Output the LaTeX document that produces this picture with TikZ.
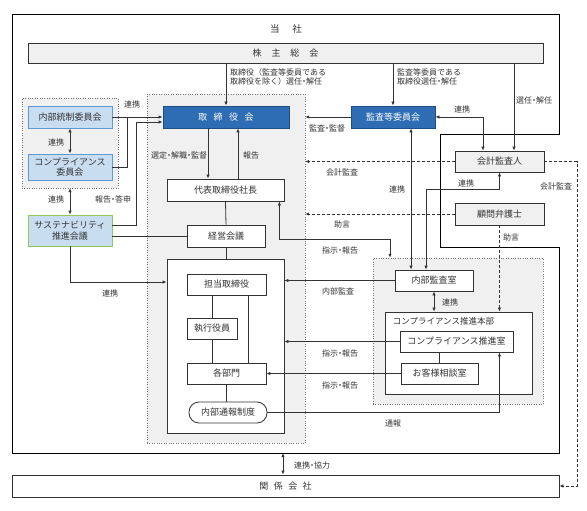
\documentclass[tikz,border=0pt]{standalone}
\usepackage{fontspec}
\setmainfont{Noto Sans CJK JP}
\usetikzlibrary{arrows.meta}

\definecolor{boardblue}{HTML}{2E6DB4}
\definecolor{boardedge}{HTML}{1F4E85}
\definecolor{paleblue}{HTML}{C9DDF1}
\definecolor{paleedge}{HTML}{5B9BD5}
\definecolor{greenedge}{HTML}{92C85A}
\definecolor{zonegray}{HTML}{F0F0F0}
\definecolor{ink}{HTML}{333333}

\newcommand*{\nd}{\hspace{-0.25em}・\hspace{-0.25em}}

\begin{document}
\begin{tikzpicture}
[
	x=1pt, y=-1pt,
	>={Latex[length=4pt,width=3.4pt]},
	box/.style={draw=ink,line width=0.8pt,fill=white,inner sep=0pt,align=center,text=ink,font=\fontsize{9}{10.5}\selectfont},
	graybox/.style={box,fill=zonegray},
	bluebox/.style={box,fill=boardblue,draw=boardedge,text=white},
	palebox/.style={box,fill=paleblue,draw=paleedge},
	greenbox/.style={box,fill=paleblue,draw=greenedge},
	zonebox/.style={draw=black!55,dotted,fill=zonegray,inner sep=0pt},
	lbl/.style={inner sep=0pt,anchor=west,align=left,text=ink,font=\fontsize{8}{9.5}\selectfont},
	link/.style={draw=ink,line width=0.8pt},
	ext/.style={link,dashed,dash pattern=on 3pt off 2pt}
]

	\useasboundingbox (0,0) rectangle (587,511);

	% zones
	\node[zonebox,minimum width=158pt,minimum height=349pt] (execzone) at (226,268.5) {};
	\node[zonebox,minimum width=96pt,minimum height=90pt] (leftzone) at (70,143) {};
	\node[zonebox,minimum width=170pt,minimum height=146pt] (compzone) at (458,331) {};

	% company frame
	\draw[line width=1pt] (12,15) -- (559,15) -- (559,134) -- (440,134) -- (440,247)
		-- (559,247) -- (559,453) -- (12,453) -- cycle;
	\node[text=ink,font=\fontsize{9.5}{10}\selectfont] (tosha) at (286,29) {当\hspace{13pt}社};
	\coordinate (fb) at (283,453);

	% boxes
	\node[graybox,minimum width=515pt,minimum height=20pt] (kabu) at (285.5,53) {株\hspace{10pt}主\hspace{10pt}総\hspace{10pt}会};
	\node[bluebox,minimum width=126pt,minimum height=22pt] (torishimari) at (226,117) {取\hspace{6.5pt}締\hspace{6.5pt}役\hspace{6.5pt}会};
	\node[bluebox,minimum width=84pt,minimum height=22pt] (kansa) at (393,117) {監査等委員会};
	\node[palebox,minimum width=84pt,minimum height=22pt] (naibu) at (70,117) {内部統制委員会};
	\node[palebox,minimum width=84pt,minimum height=26pt] (comp) at (70,167) {コンプライアンス\\委員会};
	\node[greenbox,minimum width=84pt,minimum height=31pt] (sus) at (70,230.5) {サステナビリティ\\推進会議};
	\node[box,minimum width=117pt,minimum height=22pt] (shacho) at (225.5,190) {代表取締役社長};
	\node[box,minimum width=78pt,minimum height=22pt] (keiei) at (226,236) {経営会議};
	\node[box,minimum width=117pt,minimum height=174pt] (execbox) at (225.5,346) {};
	\node[box,minimum width=79pt,minimum height=21pt] (tanto) at (226.5,284.5) {担当取締役};
	\node[box,minimum width=50pt,minimum height=21pt] (shikko) at (212,328.5) {執行役員};
	\node[box,minimum width=79pt,minimum height=21pt] (kakubu) at (226.5,373.5) {各部門};
	\node[box,rounded corners=10pt,minimum width=78pt,minimum height=21pt] (tsuho) at (228,412.5) {内部通報制度};
	\node[graybox,minimum width=89pt,minimum height=21pt] (kaikei) at (499.5,161.5) {会計監査人};
	\node[graybox,minimum width=89pt,minimum height=22pt] (komon) at (499.5,214) {顧問弁護士};
	\node[box,minimum width=78pt,minimum height=21pt] (naibukansa) at (434,280.5) {内部監査室};
	\node[box,minimum width=147pt,minimum height=82pt] (honbu) at (458.5,353) {};
	\node[lbl,font=\fontsize{8.5}{10}\selectfont] (honbut) at ([shift={(8pt,-9.5pt)}]honbu.north west) {コンプライアンス推進本部};
	\node[box,minimum width=113pt,minimum height=21pt] (compshitsu) at (456.5,341.5) {コンプライアンス推進室};
	\node[box,minimum width=77pt,minimum height=21pt] (okyaku) at (439.5,373.5) {お客様相談室};
	\node[box,minimum width=547pt,minimum height=22pt] (kankei) at (285.5,486) {関\hspace{5.5pt}係\hspace{5.5pt}会\hspace{5.5pt}社};

	% shareholders
	\coordinate (senin) at (514,0);
	\draw[link,->] (kabu.south -| torishimari.north) -- (torishimari.north);
	\draw[link,->] (kabu.south -| kansa.north) -- (kansa.north);
	\draw[link,->] (kabu.south -| senin) -- (kaikei.north -| senin);
	\node[lbl] at (230,77) {取締役（監査等委員である\\取締役を除く）選任\nd 解任};
	\node[lbl] at (397,77) {監査等委員である\\取締役選任\nd 解任};
	\node[lbl] at (516,100) {選任\nd 解任};

	% audit committee
	\coordinate (kr1) at (483,0);
	\coordinate (kr2) at (411,0);
	\coordinate (kr3) at (426,189);
	\draw[link,->] (kansa.west) -- (kansa.west -| execzone.east);
	\draw[link,<->] (kansa.east) -- (kansa.east -| kr1) -- (kaikei.north -| kr1);
	\draw[link,<->] (kansa.south -| kr2) -- (naibukansa.north -| kr2);
	\draw[link,<->] (kaikei.south -| komon.south) |- (kr3) -- (kr3 |- naibukansa.north);
	\node[lbl] at (309,128) {監査\nd 監督};
	\node[lbl] at (454,109) {連携};
	\node[lbl] at (458,183) {連携};
	\node[lbl] at (389,189) {連携};

	% outside advisers
	\coordinate (far) at (577,0);
	\draw[ext,->] (kaikei.west) -- (kaikei.west -| execzone.east);
	\draw[ext,->] (kaikei.east) -- (kaikei.east -| far) -- (kankei.east -| far) -- (kankei.east);
	\draw[ext,->] (komon.west) -- (komon.west -| execzone.east);
	\draw[ext,->] (komon.south) -- (komon.south |- honbu.north);
	\node[lbl] at (326,172) {会計監査};
	\node[lbl] at (540,186) {会計監査};
	\node[lbl] at (334,224) {助言};
	\node[lbl] at (503,237) {助言};

	% board and executives
	\draw[link,->] ([xshift=-18pt]torishimari.south) -- ([xshift=-18pt]torishimari.south |- shacho.north);
	\draw[link,->] ([xshift=12.5pt]shacho.north) -- ([xshift=12.5pt]shacho.north |- torishimari.south);
	\draw[link] (shacho.south) -- (keiei.north);
	\draw[link] (keiei.south) -- (keiei.south |- execbox.north);
	\draw[link] (tanto.south -| shikko) -- (shikko.north);
	\draw[link] (shikko.south) -- (shikko.south |- kakubu.north);
	\draw[link] ([xshift=21.5pt]tanto.south) -- ([xshift=21.5pt]kakubu.north);
	\draw[link] (kakubu.south) -- (kakubu.south |- tsuho.north);
	\node[lbl] at (151,155) {選定\nd 解職\nd 監督};
	\node[lbl] at (243,155) {報告};

	% committees
	\coordinate (cj) at (127,0);
	\coordinate (hk) at (136,122);
	\draw[link,->] (naibu.east) -- (naibu.east -| torishimari.west);
	\draw[link] (comp.east) -| (naibu.east -| cj);
	\draw[link,->] ([yshift=5.5pt]sus.east) -| (hk) -- (hk -| torishimari.west);
	\draw[link] (sus.east |- keiei.west) -- (keiei.west);
	\draw[link,->] (sus.south) |- ([yshift=64pt]execbox.west);
	\draw[link,<->] (naibu.south) -- (comp.north);
	\draw[link,<->] (leftzone.south -| sus) -- (sus.north);
	\node[lbl] at (124,104) {連携};
	\node[lbl] at (48,142) {連携};
	\node[lbl] at (48,199) {連携};
	\node[lbl] at (95,199) {報告\nd 答申};
	\node[lbl] at (102,293) {連携};

	% internal audit and compliance
	\coordinate (sj) at (390,239);
	\draw[link,<->] ([xshift=-5pt]shacho.south east) |- (sj) -- (sj |- compzone.north);
	\draw[link,->] (naibukansa.west) -- (naibukansa.west -| execbox.east);
	\draw[link,<->] (naibukansa.south) -- (naibukansa.south |- honbu.north);
	\draw[link,->] (compshitsu.west) -- (compshitsu.west -| execbox.east);
	\draw[link] (compshitsu.south -| okyaku) -- (okyaku.north);
	\draw[link,->] (okyaku.west) -- (kakubu.east);
	\draw[link,->] (tsuho.east) -| (compshitsu.south -| komon.south);
	\node[lbl] at (322,250) {指示\nd 報告};
	\node[lbl] at (322,291) {内部監査};
	\node[lbl] at (442,302) {連携};
	\node[lbl] at (322,353) {指示\nd 報告};
	\node[lbl] at (322,385) {指示\nd 報告};
	\node[lbl] at (385,423) {通報};

	% group companies
	\draw[link,<->] (fb) -- (fb |- kankei.north);
	\node[lbl] at (294,465) {連携\nd 協力};

\end{tikzpicture}
\end{document}
